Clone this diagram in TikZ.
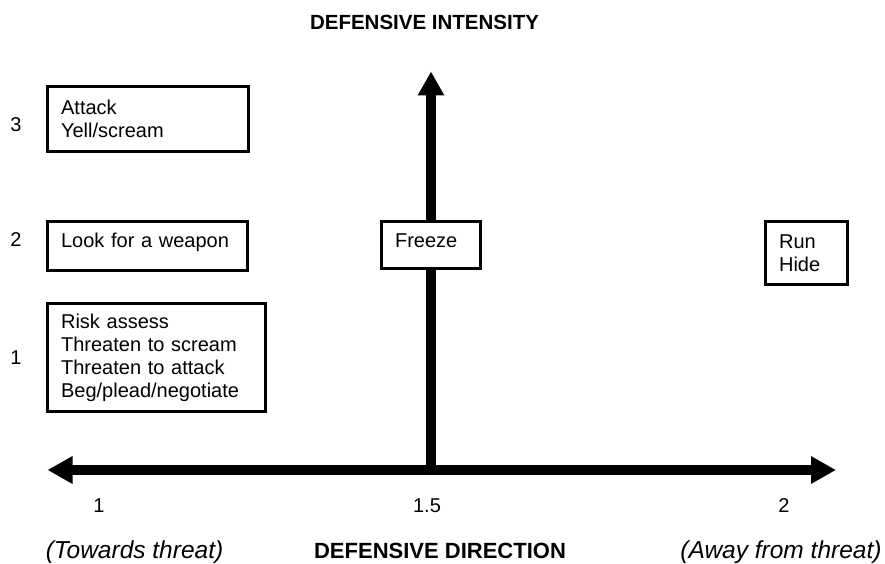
\documentclass[tikz,border=0pt]{standalone}
\usepackage{fontspec}
\setmainfont{Liberation Sans}
\usetikzlibrary{arrows.meta}
\tikzset{
  box/.style={draw, line width=3.2pt, fill=white, inner xsep=13.5pt, inner ysep=0pt, align=left, anchor=north west, font=\fontsize{20}{23}\selectfont},
  lbl/.style={font=\fontsize{20}{23}\selectfont, inner sep=0pt},
  title/.style={font=\fontsize{20.5}{24}\selectfont\bfseries, inner sep=0pt, anchor=base},
  note/.style={font=\fontsize{24.5}{28}\selectfont\itshape, inner sep=0pt, anchor=base},
  axis/.style={line width=10.5pt, {Triangle[width=26pt,length=25pt]}-{Triangle[width=26pt,length=25pt]}},
  vaxis/.style={line width=10.5pt, -{Triangle[width=25pt,length=24pt]}}
}
\begin{document}
\begin{tikzpicture}[x=1pt,y=-1pt]
\useasboundingbox (0,0) rectangle (885,564);
\coordinate (L) at (47.5,470);
\coordinate (R) at (836,470);
\coordinate (O) at (431,470);
\coordinate (T) at (431,71.5);
\draw[vaxis] (O) -- (T);
\draw[axis] (L) -- (R);
\node[title] (yt) at (424.5,30) {DEFENSIVE INTENSITY};
\node[box, text width=173.8pt, minimum height=65pt] (b3) at (46,85) {Attack\\Yell/scream};
\node[box, text width=172.8pt, text height=25.4pt, text depth=23.4pt] (b2) at (46,220) {Look for a weapon};
\node[box, text width=190.8pt, minimum height=108pt] (b1) at (46,302) {Risk assess\\Threaten to scream\\Threaten to attack\\Beg/plead/negotiate};
\node[box, text width=71.8pt, text height=25.4pt, text depth=21.4pt] (fr) at (380,220) {Freeze};
\node[box, text width=54.8pt, minimum height=62.8pt] (rh) at (764,220) {Run\\Hide};
\node[lbl] (y3) at (16,125) {3};
\node[lbl] (y2) at (16,240) {2};
\node[lbl] (y1) at (16,358) {1};
\node[lbl] (x1) at (99,506) {1};
\node[lbl] (x15) at (427,506) {1.5};
\node[lbl] (x2) at (784,506) {2};
\node[note] (tw) at (134.5,558) {(Towards threat)};
\node[title, font=\fontsize{22}{26}\selectfont\bfseries] (xt) at (440,558) {DEFENSIVE DIRECTION};
\node[note] (aw) at (781,558) {(Away from threat)};
\end{tikzpicture}
\end{document}
